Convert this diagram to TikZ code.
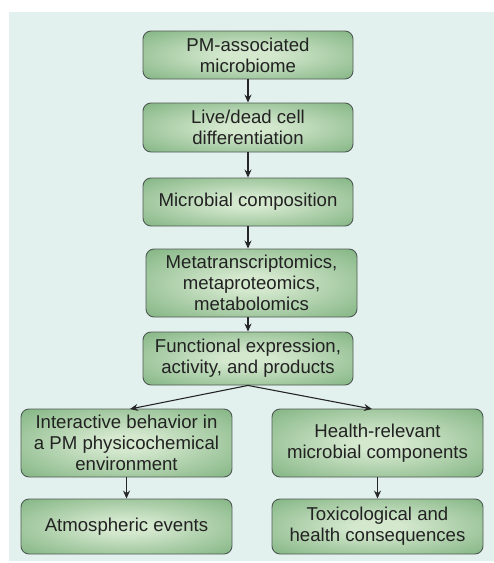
\documentclass[tikz,border=0pt]{standalone}
\usepackage{fontspec}
\setmainfont{Liberation Sans}
\usetikzlibrary{arrows.meta}
\definecolor{bgmint}{RGB}{226,241,238}
\definecolor{boxin}{RGB}{212,232,206}
\definecolor{boxout}{RGB}{136,184,136}
\definecolor{boxline}{RGB}{80,90,84}
\definecolor{txt}{RGB}{34,34,34}
\pgfdeclareradialshading{boxshade}{\pgfpoint{0bp}{0bp}}{color(0bp)=(boxin); color(6bp)=(boxin); color(34bp)=(boxout); color(50bp)=(boxout)}
\tikzset{
  flowbox/.style={draw=boxline, line width=0.9pt, rounded corners=8pt, shading=boxshade,
    text=txt, align=center, inner sep=0pt, font=\fontsize{18.6}{21}\selectfont},
  flowarrow/.style={draw=black!85, line width=1.1pt, -{Stealth[length=8pt,width=7pt]}}
}
\begin{document}
\begin{tikzpicture}[x=1pt,y=-1pt]
\useasboundingbox (0,0) rectangle (494,563);
\fill[bgmint] (9,12) rectangle (494,561);
\node[flowbox, minimum width=210pt, minimum height=48pt] (n1) at (248,55) {PM-associated\\microbiome};
\node[flowbox, minimum width=210pt, minimum height=49pt] (n2) at (248,127.5) {Live/dead cell\\differentiation};
\node[flowbox, minimum width=210pt, minimum height=48pt] (n3) at (248,202) {Microbial composition};
\node[flowbox, minimum width=211pt, minimum height=68pt] (n4) at (251.5,283) {Metatranscriptomics,\\metaproteomics,\\metabolomics};
\node[flowbox, minimum width=210pt, minimum height=53pt] (n5) at (248,358.5) {Functional expression,\\activity, and products};
\node[flowbox, minimum width=211pt, minimum height=68pt] (n6) at (126.5,443) {Interactive behavior in\\a PM physicochemical\\environment};
\node[flowbox, minimum width=211pt, minimum height=68pt] (n7) at (377.5,443) {Health-relevant\\microbial components};
\node[flowbox, minimum width=211pt, minimum height=55pt] (n8) at (126.5,526.5) {Atmospheric events};
\node[flowbox, minimum width=211pt, minimum height=55pt] (n9) at (377.5,526.5) {Toxicological and\\health consequences};
\coordinate (split) at (n5.south);
\coordinate (leftend) at (130,409);
\coordinate (rightend) at (372,409);
\draw[flowarrow] (n1.south) -- (n2.north);
\draw[flowarrow] (n2.south) -- (n3.north);
\draw[flowarrow] (n3.south) -- (n3.south |- n4.north);
\draw[flowarrow] (n4.south -| n5.north) -- (n5.north);
\draw[flowarrow] (split) -- (leftend);
\draw[flowarrow] (split) -- (rightend);
\draw[flowarrow] (n6.south) -- (n8.north);
\draw[flowarrow] (n7.south) -- (n9.north);
\end{tikzpicture}
\end{document}
